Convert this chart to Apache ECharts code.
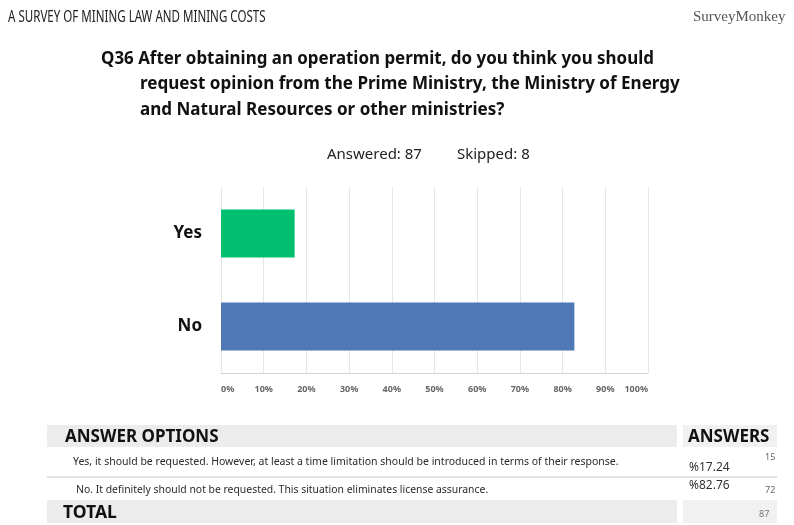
<!DOCTYPE html>
<html>
<head>
<meta charset="utf-8">
<script src="https://cdn.jsdelivr.net/npm/echarts@6/dist/echarts.min.js"></script>
<style>
html,body{margin:0;padding:0;background:#fff;}
#c{width:794px;height:525px;}
</style>
</head>
<body>
<div id="c"></div>
<script>
const categories = ['Yes', 'No'];
const percents = [17.24, 82.76];
const counts = [15, 72];
const barColors = ['#00bf6f', '#4e79b4'];
const answerOptions = [
  'Yes, it should be requested. However, at least a time limitation should be introduced in terms of their response.',
  'No. It definitely should not be requested. This situation eliminates license assurance.'
];
const answered = 87;
const skipped = 8;
const total = 87;

const sans = '"Noto Sans", sans-serif';

function txt(x, y, text, font, fill, sx) {
  return { type: 'text', x: x, y: y, scaleX: sx || 1,
    style: { text: text, font: font, fill: fill, verticalAlign: 'middle', align: 'left' } };
}

const chart = echarts.init(document.getElementById('c'));

const graphics = [
  txt(8, 17, 'A SURVEY OF MINING LAW AND MINING COSTS', '17px ' + sans, '#222', 0.68),
  txt(693, 17, 'SurveyMonkey', '15px "Liberation Serif", serif', '#555', 1.0),
  txt(101, 59, 'Q36 After obtaining an operation permit, do you think you should', 'bold 18px ' + sans, '#111', 0.94),
  txt(140, 84, 'request opinion from the Prime Ministry, the Ministry of Energy', 'bold 18px ' + sans, '#111', 0.947),
  txt(140, 110, 'and Natural Resources or other ministries?', 'bold 18px ' + sans, '#111', 0.947),
  txt(327, 155, 'Answered: ' + answered, '15px ' + sans, '#222', 1),
  txt(457, 155, 'Skipped: ' + skipped, '15px ' + sans, '#222', 1),
  // table backgrounds
  { type: 'rect', shape: { x: 47, y: 425, width: 630, height: 22 }, style: { fill: '#ececec' } },
  { type: 'rect', shape: { x: 683, y: 425, width: 94, height: 22 }, style: { fill: '#f1f1f1' } },
  { type: 'line', shape: { x1: 47, y1: 477, x2: 777, y2: 477 }, style: { stroke: '#d8d8d8', lineWidth: 1.5 } },
  { type: 'rect', shape: { x: 47, y: 500, width: 630, height: 23 }, style: { fill: '#ececec' } },
  { type: 'rect', shape: { x: 683, y: 500, width: 94, height: 23 }, style: { fill: '#f1f1f1' } },
  txt(65, 437, 'ANSWER OPTIONS', 'bold 17px ' + sans, '#111', 1),
  txt(688, 437, 'ANSWERS', 'bold 17px ' + sans, '#111', 1),
  txt(73, 462, answerOptions[0], '10.5px ' + sans, '#2a2a2a', 1),
  txt(689, 467, '%' + percents[0].toFixed(2), '12.5px ' + sans, '#333', 0.96),
  txt(765, 457, String(counts[0]), '9px ' + sans, '#666', 1),
  txt(76, 490, answerOptions[1], '10.4px ' + sans, '#2a2a2a', 1),
  txt(689, 485, '%' + percents[1].toFixed(2), '12.5px ' + sans, '#333', 0.96),
  txt(765, 490, String(counts[1]), '9px ' + sans, '#666', 1),
  txt(63, 513, 'TOTAL', 'bold 17.5px ' + sans, '#111', 1),
  txt(759, 514, String(total), '9px ' + sans, '#777', 1)
];

chart.setOption({
  animation: false,
  backgroundColor: '#fff',
  grid: { left: 221, right: 146, top: 187, bottom: 152, containLabel: false },
  xAxis: {
    type: 'value', min: 0, max: 100, interval: 10,
    axisLine: { show: true, lineStyle: { color: '#d4d4d4' } },
    axisTick: { show: false },
    splitLine: { show: true, lineStyle: { color: '#e6e6e6' } },
    axisLabel: { formatter: '{value}%', color: '#666', fontSize: 9, fontWeight: 'bold', margin: 12,
      alignMinLabel: 'left', alignMaxLabel: 'right', fontFamily: 'Noto Sans' }
  },
  yAxis: {
    type: 'category', data: categories, inverse: true,
    axisLine: { show: false }, axisTick: { show: false },
    axisLabel: { color: '#111', fontSize: 17, fontWeight: 'bold', margin: 19, fontFamily: sans }
  },
  series: [{
    type: 'bar',
    data: percents.map((v, i) => ({ value: v, itemStyle: { color: barColors[i] } })),
    barWidth: 48
  }],
  graphic: graphics
});
</script>
</body>
</html>
